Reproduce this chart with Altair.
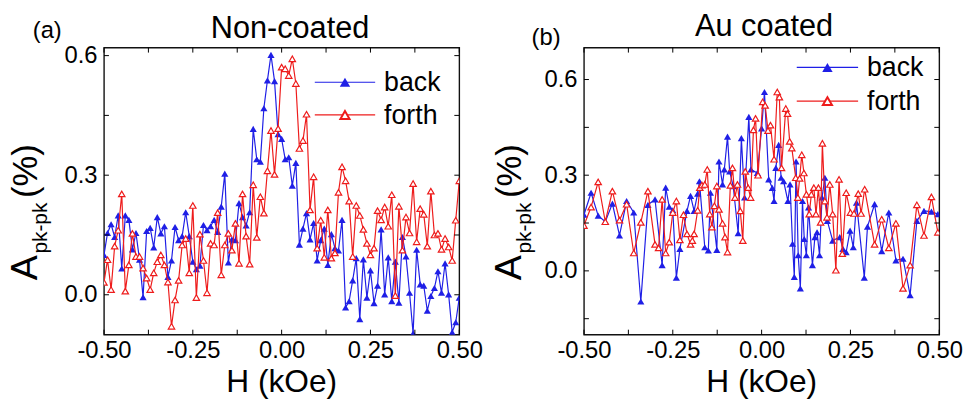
import altair as alt
import pandas as pd

FONT = "Liberation Sans"
BLUE = "#1f1fe6"
RED = "#ee1c1c"

# ---------------- (a) Non-coated ----------------
a_H = [-0.50, -0.49, -0.48, -0.47, -0.46, -0.45, -0.44, -0.43, -0.42, -0.41,
       -0.40, -0.39, -0.38, -0.37, -0.36, -0.35, -0.34, -0.33, -0.32, -0.31,
       -0.30, -0.29, -0.28, -0.27, -0.26, -0.25, -0.24, -0.23, -0.22, -0.21,
       -0.20, -0.19, -0.18, -0.17, -0.16, -0.15, -0.14, -0.13, -0.12, -0.11,
       -0.10, -0.09, -0.08, -0.07, -0.06, -0.05, -0.04, -0.03, -0.02, -0.01,
       0.00, 0.01, 0.02, 0.03, 0.04, 0.05, 0.06, 0.07, 0.08, 0.09,
       0.10, 0.11, 0.12, 0.13, 0.14, 0.15, 0.16, 0.17, 0.18, 0.19,
       0.20, 0.21, 0.22, 0.23, 0.24, 0.25, 0.26, 0.27, 0.28, 0.29,
       0.30, 0.31, 0.32, 0.33, 0.34, 0.35, 0.36, 0.37, 0.38, 0.39,
       0.40, 0.41, 0.42, 0.43, 0.44, 0.45, 0.46, 0.47, 0.48, 0.49, 0.50]

a_back = [0.10, 0.155, 0.177, 0.145, 0.199, 0.066, 0.199, 0.188, 0.114, 0.155,
          0.088, -0.006, 0.16, 0.168, 0.119, 0.195, 0.154, 0.172, 0.045, 0.086,
          0.17, 0.137, 0.147, 0.207, 0.147, 0.083, 0.064, 0.073, 0.175, 0.162,
          0.172, 0.188, 0.158, 0.221, 0.304,
          0.081, 0.139, 0.137, 0.23, 0.195, 0.174, 0.207, 0.416, 0.34, 0.334,
          0.468, 0.538, 0.602, 0.536, 0.403, 0.391, 0.34, 0.345, 0.274, 0.331,
          0.126, 0.166, 0.205, 0.139, 0.18, 0.086, 0.137, 0.166, 0.075, 0.152,
          0.117, 0.111, 0.188,
          -0.032, -0.016, 0.036, 0.092, -0.061, 0.089, -0.007, 0.061, -0.021, 0.023,
          0.164, 0.001, 0.094, -0.016, 0.083, -0.02, 0.145, 0.096, 0.005, -0.097,
          0.113, 0.026, 0.023, -0.04, -0.003, 0.017, 0.059, 0.005, 0.079, 0.001,
          -0.094, -0.069, -0.007]

a_forth = [0.031, 0.088, 0.013, 0.122, 0.162, 0.253, 0.009, 0.075, 0.154, 0.096,
           0.096, 0.067, 0.042, 0.013, 0.055, 0.083, 0.1, 0.075, 0.032, -0.079,
           -0.013, 0.036, 0.125, 0.141, 0.055, 0.224, -0.007, 0.152, 0.086, 0.005,
           0.129, 0.125, 0.206, 0.05,
           0.125, 0.154, 0.112, 0.179, 0.079, 0.253, 0.147, 0.077, 0.276, 0.144,
           0.246, 0.205, 0.311, 0.412, 0.302, 0.417, 0.571, 0.567, 0.55, 0.592,
           0.53, 0.367, 0.387, 0.453, 0.213, 0.296, 0.117, 0.187, 0.094, 0.213,
           0.092, 0.105, 0.257,
           0.321, 0.286, 0.235, 0.096, 0.224, 0.199, 0.164, 0.129, 0.1, 0.117,
           0.211, 0.188, 0.22, 0.172, 0.251, -0.002, 0.222, 0.112, 0.195, 0.155,
           0.279, 0.133, 0.216, 0.202, 0.122, 0.26, 0.15, 0.154, 0.114, 0.141,
           0.12, 0.086, 0.187, 0.286]

# ---------------- (b) Au coated ----------------
b_back_H = [-0.50, -0.48, -0.46, -0.44, -0.42, -0.40, -0.38, -0.36, -0.34, -0.32,
            -0.30, -0.28, -0.27, -0.26, -0.25, -0.24, -0.23, -0.21, -0.20, -0.19,
            -0.18, -0.175, -0.16, -0.15, -0.144, -0.126, -0.12, -0.11, -0.105, -0.096,
            -0.09, -0.08, -0.066, -0.057, -0.048, -0.036, -0.03, -0.012, 0.0, 0.008,
            0.02, 0.03, 0.035, 0.04, 0.048, 0.055, 0.062, 0.074, 0.08, 0.087,
            0.092, 0.097, 0.103, 0.109, 0.115, 0.12, 0.126, 0.132, 0.143, 0.15,
            0.156, 0.163, 0.17, 0.178, 0.185, 0.2, 0.22, 0.229, 0.238, 0.249,
            0.258, 0.267, 0.289, 0.298, 0.318, 0.338, 0.358, 0.378, 0.398, 0.418,
            0.437, 0.457, 0.478, 0.496]
b_back = [0.176, 0.245, 0.173, 0.154, 0.211, 0.111, 0.219, 0.183, -0.096, 0.207,
          0.224, 0.018, 0.261, 0.201, 0.19, -0.021, 0.069, 0.188, 0.235, 0.188,
          0.242, 0.281, 0.074, 0.064, 0.245, 0.066, 0.343, 0.271, 0.318, 0.421,
          0.312, 0.266, 0.118, 0.416, 0.23, 0.483, 0.318, 0.307, 0.447, 0.561,
          0.287, 0.26, 0.219, 0.323, 0.395, 0.292, 0.281, 0.219, 0.271, 0.085,
          -0.019, 0.343, 0.049, -0.055, 0.219, 0.1, 0.049, 0.199, 0.018, 0.106,
          0.121, 0.049, 0.23, 0.292, 0.157, 0.095, 0.106, 0.069, 0.059, 0.126,
          0.074, 0.214, -0.021, 0.139, 0.209, 0.062, 0.183, 0.033, 0.038, -0.076,
          0.157, 0.188, 0.186, 0.178]

b_forth_H = [-0.50, -0.48, -0.46, -0.44, -0.42, -0.40, -0.38, -0.36, -0.34, -0.32,
             -0.30, -0.29, -0.28, -0.27, -0.26, -0.25, -0.24, -0.23, -0.22, -0.21,
             -0.20, -0.195, -0.19, -0.18, -0.174, -0.168, -0.16, -0.153, -0.146, -0.14,
             -0.133, -0.126, -0.12, -0.11, -0.103, -0.096, -0.088, -0.082, -0.075, -0.068,
             -0.06, -0.053, -0.046, -0.038, -0.031, -0.023, -0.017, -0.01, 0.003, 0.01,
             0.018, 0.025, 0.035, 0.044, 0.05, 0.056, 0.068, 0.073, 0.079, 0.085,
             0.096, 0.102, 0.107, 0.113, 0.119, 0.126, 0.134, 0.14, 0.147, 0.153,
             0.16, 0.166, 0.171, 0.178, 0.184, 0.192, 0.2, 0.209, 0.218, 0.227,
             0.238, 0.25, 0.26, 0.272, 0.28, 0.29, 0.318, 0.338, 0.358, 0.378,
             0.398, 0.418, 0.437, 0.457, 0.478, 0.496]
b_forth = [0.142, 0.2, 0.279, 0.154, 0.25, 0.159, 0.209, 0.056, 0.152, 0.25,
           0.083, 0.072, 0.224, 0.056, 0.09, 0.183, 0.219, 0.097, 0.176, 0.116,
           0.083, 0.095, 0.116, 0.19, 0.261, 0.269, 0.271, 0.318, 0.178, 0.137,
           0.204, 0.266, 0.193, 0.149, 0.106, 0.059, 0.268, 0.323, 0.23, 0.271,
           0.188, 0.095, 0.312, 0.261, 0.23, 0.442, 0.478, 0.3, 0.53, 0.519,
           0.44, 0.457, 0.35, 0.561, 0.545, 0.323, 0.509, 0.493, 0.406, 0.385,
           0.292, 0.23, 0.29, 0.364, 0.307, 0.24, 0.178, 0.24, 0.261, 0.178,
           0.261, 0.152, 0.4, 0.219, 0.168, 0.271, 0.178, 0.002, 0.287, 0.054,
           0.245, 0.183, 0.18, 0.242, 0.18, 0.256, 0.083, 0.162, 0.072, 0.149,
           -0.055, 0.018, 0.207, 0.111, 0.232, 0.121]

x_ticks = [-0.5, -0.375, -0.25, -0.125, 0.0, 0.125, 0.25, 0.375, 0.5]
x_labels = [-0.5, -0.25, 0.0, 0.25, 0.5]
y_labels = [0.0, 0.3, 0.6]
a_yticks = [0.0, 0.15, 0.3, 0.45, 0.6]
b_yticks = [-0.15, 0.0, 0.15, 0.3, 0.45, 0.6]

W, Hh = 359, 290
TL = 5  # tick length (inward)


def one(v):
    return pd.DataFrame({"k": [v]})


def panel(bH, by, fH, fy, ydom, yticks, title, tag, geo):
    xs = alt.Scale(domain=[-0.5, 0.5], nice=False, zero=False)
    ys = alt.Scale(domain=ydom, nice=False, zero=False)
    xaxis = alt.Axis(values=x_labels, ticks=False, domain=False, grid=False, title=None,
                     labelFont=FONT, labelFontSize=24, labelColor="black", labelPadding=4,
                     labelFlush=False, labelOverlap=False,
                     labelExpr="datum.value < 0 ? '-' + format(-datum.value, '.2f') : format(datum.value, '.2f')")
    yaxis = alt.Axis(values=y_labels, ticks=False, domain=False, grid=False, title=None,
                     labelFont=FONT, labelFontSize=24, labelColor="black", labelPadding=7,
                     labelFlush=False, labelOverlap=False, format=".1f")
    X = alt.X("H:Q", scale=xs, axis=xaxis)
    Y = alt.Y("A:Q", scale=ys, axis=yaxis)

    dback = pd.DataFrame({"H": bH, "A": by})
    dforth = pd.DataFrame({"H": fH, "A": fy})

    layers = []
    layers.append(alt.Chart(dback).mark_line(color=BLUE, strokeWidth=1.2, clip=True).encode(x=X, y=Y))
    layers.append(alt.Chart(dback).mark_point(shape="triangle-up", filled=True, color=BLUE,
                                              size=52, opacity=1, clip=True).encode(x=X, y=Y))
    layers.append(alt.Chart(dforth).mark_line(color=RED, strokeWidth=1.2, clip=True).encode(x=X, y=Y))
    layers.append(alt.Chart(dforth).mark_point(shape="triangle-up", filled=False, fill="white",
                                               fillOpacity=1, stroke=RED, strokeWidth=1.2,
                                               size=42, opacity=1, clip=True).encode(x=X, y=Y))

    # inward ticks on all four sides
    dxt = pd.DataFrame({"H": x_ticks})
    dyt = pd.DataFrame({"A": yticks})
    rule = dict(color="black", strokeWidth=1)
    layers.append(alt.Chart(dxt).mark_rule(**rule).encode(x=X, y=alt.value(Hh), y2=alt.value(Hh - TL)))
    layers.append(alt.Chart(dxt).mark_rule(**rule).encode(x=X, y=alt.value(0), y2=alt.value(TL)))
    layers.append(alt.Chart(dyt).mark_rule(**rule).encode(y=Y, x=alt.value(0), x2=alt.value(TL)))
    layers.append(alt.Chart(dyt).mark_rule(**rule).encode(y=Y, x=alt.value(W - TL), x2=alt.value(W)))

    # titles
    layers.append(alt.Chart(one(0)).mark_text(text=title, font=FONT, fontSize=31, color="black",
                                              align="center", baseline="alphabetic")
                  .encode(x=alt.value(geo["title"][0]), y=alt.value(geo["title"][1])))
    layers.append(alt.Chart(one(0)).mark_text(text=tag, font=FONT, fontSize=24, color="black",
                                              align="left", baseline="alphabetic")
                  .encode(x=alt.value(geo["tag"][0]), y=alt.value(geo["tag"][1])))
    layers.append(alt.Chart(one(0)).mark_text(text="H (kOe)", font=FONT, fontSize=32, color="black",
                                              align="center", baseline="alphabetic")
                  .encode(x=alt.value(W / 2), y=alt.value(geo["xt"])))
    # y title with subscript (rotated)
    yx, yy = geo["yt"]
    layers.append(alt.Chart(one(0)).mark_text(text="A", font=FONT, fontSize=38, color="black",
                                              align="left", baseline="alphabetic", angle=270)
                  .encode(x=alt.value(yx), y=alt.value(yy)))
    layers.append(alt.Chart(one(0)).mark_text(text="pk-pk", font=FONT, fontSize=21, color="black",
                                              align="left", baseline="alphabetic", angle=270)
                  .encode(x=alt.value(yx + 10), y=alt.value(yy - 27)))
    layers.append(alt.Chart(one(0)).mark_text(text="(%)", font=FONT, fontSize=35, color="black",
                                              align="left", baseline="alphabetic", angle=270)
                  .encode(x=alt.value(yx), y=alt.value(yy - 83)))

    # legend
    lx0, lx1, ly1, ly2 = geo["leg"]
    for ly, col, filled, name in [(ly1, BLUE, True, "back"), (ly2, RED, False, "forth")]:
        layers.append(alt.Chart(one(0)).mark_rule(color=col, strokeWidth=1.2)
                      .encode(x=alt.value(lx0), x2=alt.value(lx1), y=alt.value(ly)))
        if filled:
            pm = alt.Chart(one(0)).mark_point(shape="triangle-up", filled=True, color=col, size=110, opacity=1)
        else:
            pm = alt.Chart(one(0)).mark_point(shape="triangle-up", filled=False, fill="white", fillOpacity=1,
                                              stroke=col, strokeWidth=2, size=85, opacity=1)
        layers.append(pm.encode(x=alt.value((lx0 + lx1) / 2), y=alt.value(ly)))
        layers.append(alt.Chart(one(0)).mark_text(text=name, font=FONT, fontSize=27, color="black",
                                                  align="left", baseline="middle")
                      .encode(x=alt.value(lx1 + 9), y=alt.value(ly + 1)))

    return alt.layer(*layers).properties(width=W, height=Hh)


left = panel(a_H, a_back, a_H, a_forth, [-0.1, 0.62], a_yticks, "Non-coated", "(a)",
             {"title": (188, -10), "tag": (-72, -10), "xt": 348, "yt": (-68, 235),
              "leg": (213, 274, 35, 68)})
right = panel(b_back_H, b_back, b_forth_H, b_forth, [-0.2, 0.7], b_yticks, "Au coated", "(b)",
              {"title": (182, -12), "tag": (-53, -3), "xt": 348, "yt": (-64, 235),
               "leg": (215, 277, 20, 54)})

chart = alt.hconcat(left, right, spacing=6).properties(
    padding={"left": -2, "top": 0, "right": 0, "bottom": 0},
    background="white",
).configure_view(stroke="#111", strokeWidth=1.4)

chart.save("out.html", embed_options={"renderer": "svg", "actions": False})
